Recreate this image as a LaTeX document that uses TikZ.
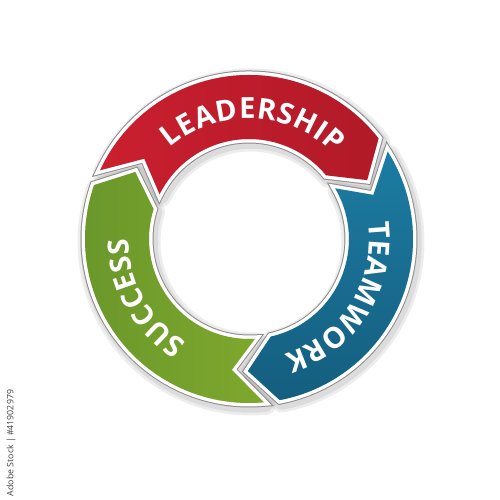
\documentclass[tikz,border=0pt]{standalone}
\usepackage{fontspec}
\usetikzlibrary{decorations.text}
\newfontfamily\ringfont{Open Sans}

\definecolor{leadred}{HTML}{CC2030}
\definecolor{leadreddark}{HTML}{8A111C}
\definecolor{teamblue}{HTML}{1F86AE}
\definecolor{teambluedark}{HTML}{082D45}
\definecolor{succgreen}{HTML}{90B62E}
\definecolor{succgreendark}{HTML}{3D7428}
\definecolor{rimgray}{HTML}{8C8C8C}

\pgfdeclareradialshading{redring}{\pgfpoint{0bp}{0bp}}{color(0bp)=(leadred); color(30bp)=(leadred); color(50bp)=(leadreddark)}
\pgfdeclareradialshading{bluering}{\pgfpoint{0bp}{0bp}}{color(0bp)=(teamblue); color(30bp)=(teamblue); color(50bp)=(teambluedark)}
\pgfdeclareradialshading{greenring}{\pgfpoint{0bp}{0bp}}{color(0bp)=(succgreen); color(30bp)=(succgreen); color(50bp)=(succgreendark)}

% ring sizes
\def\Rout{3.28}
\def\Rin{2.0}
\def\Rmid{2.64}
\def\Rtxt{2.41}

\newcommand{\labelfont}{\ringfont\bfseries\fontsize{16.5}{16.5}\selectfont}

% one arrow of the ring: #1 = boundary at its tail, #2 = boundary at its head
\newcommand{\ringarrow}[2]{(#1-2.8:\Rout) arc[start angle=#1-2.8, end angle=#2+2.8, radius=\Rout] -- (#2-8.5:\Rmid) -- (#2+4.6:\Rin) arc[start angle=#2+4.6, end angle=#1-4.6, radius=\Rin] -- (#1-15.5:\Rmid) -- cycle}

\tikzset{
  ringshadow/.style={draw=black, line width=#1, opacity=0.07, line join=round, shift={(0.04,-0.06)}},
  ringrim/.style={draw=rimgray, line width=0.18cm},
  ringwhite/.style={draw=white, line width=0.14cm},
  redtint/.style={left color=leadred, right color=leadreddark},
  bluetint/.style={top color=teamblue, bottom color=teambluedark},
  greentint/.style={left color=succgreendark, right color=succgreen},
  ringtext/.style={decorate, decoration={text along path, text align=fit to path, text color=white, text={|\labelfont|#1}}}
}

\begin{document}
\begin{tikzpicture}
  \useasboundingbox (-4.98,-5.22) rectangle (5.02,4.78);
  \fill[white] (-4.98,-5.22) rectangle (5.02,4.78);

  % shadow, rim and white edge of the three arrows
  \foreach \tail/\head in {158/35, 35/-82, 278/158} {
    \draw[ringshadow=0.38cm] \ringarrow{\tail}{\head};
    \draw[ringshadow=0.27cm] \ringarrow{\tail}{\head};
  }
  \foreach \tail/\head in {158/35, 35/-82, 278/158}
    \draw[ringrim] \ringarrow{\tail}{\head};
  \foreach \tail/\head in {158/35, 35/-82, 278/158}
    \draw[ringwhite] \ringarrow{\tail}{\head};

  % coloured arrows
  \foreach \tail/\head/\shd/\tint in {158/35/redring/redtint, 35/-82/bluering/bluetint, 278/158/greenring/greentint} {
    \begin{scope}
      \clip \ringarrow{\tail}{\head};
      \shade[shading=\shd] (0,0) circle (\Rout);
      \shade[\tint, opacity=0.45] (-\Rout,-\Rout) rectangle (\Rout,\Rout);
    \end{scope}
  }

  % labels
  \path[ringtext=LEADERSHIP] (131:\Rtxt) arc[start angle=131, end angle=45, radius=\Rtxt];
  \path[ringtext=TEAMWORK] (8:\Rtxt) arc[start angle=8, end angle=-73, radius=\Rtxt];
  \path[ringtext=SUCCESS] (239:\Rtxt) arc[start angle=239, end angle=180, radius=\Rtxt];

  \node[rotate=90, font=\ringfont\fontsize{5}{6}\selectfont, text=black!75] (stockmark) at (-4.76,-4.08) {Adobe Stock | \#41902979};
\end{tikzpicture}
\end{document}
